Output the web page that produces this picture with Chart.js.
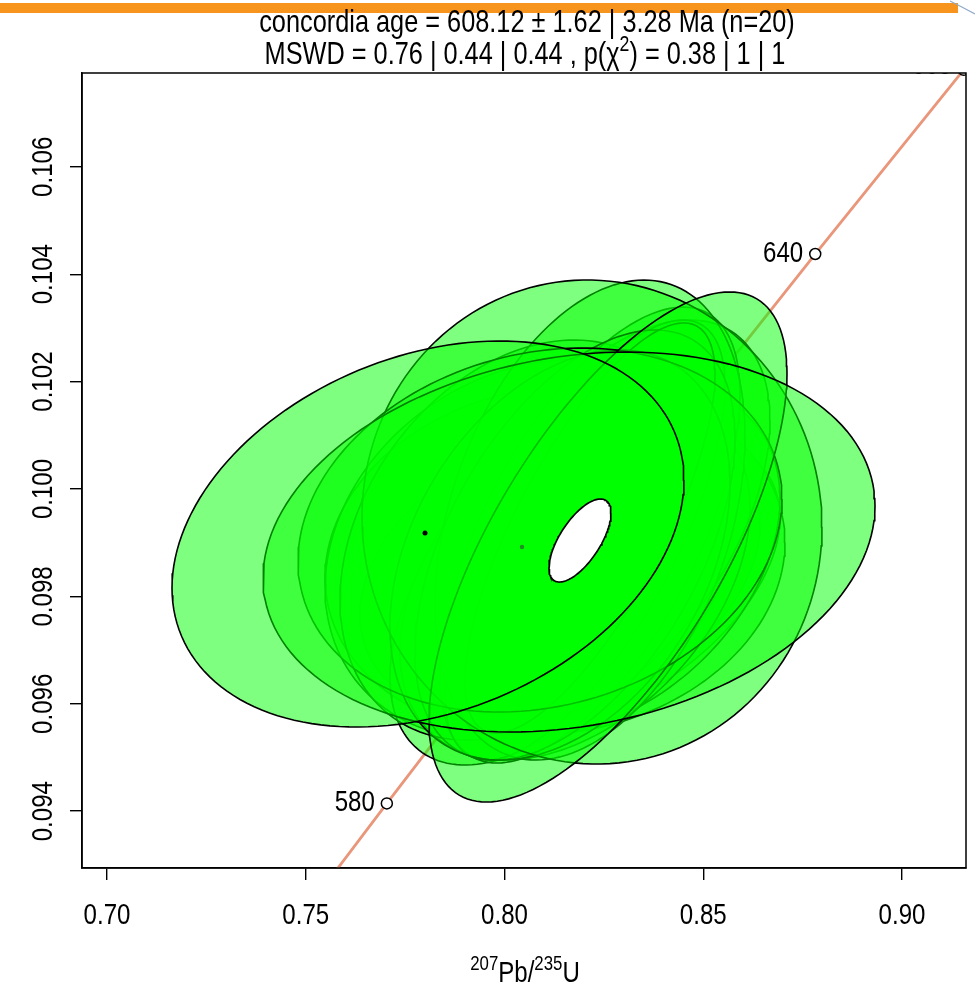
<!DOCTYPE html>
<html>
<head>
<meta charset="utf-8">
<script src="https://cdn.jsdelivr.net/npm/chart.js@4.4.1/dist/chart.umd.min.js"></script>
<style>
  html, body { margin: 0; padding: 0; background: #ffffff; }
  canvas { display: block; }
</style>
</head>
<body>
<canvas id="concordia" width="975" height="994"></canvas>
<script>
// ---- axis ranges and ticks ----
const xRange = [0.69371, 0.91610];
const yRange = [0.092942, 0.107747];
const xTicks = [0.70, 0.75, 0.80, 0.85, 0.90];
const yTicks = [0.094, 0.096, 0.098, 0.100, 0.102, 0.104, 0.106];
const xTickLabels = ['0.70', '0.75', '0.80', '0.85', '0.90'];
const yTickLabels = ['0.094', '0.096', '0.098', '0.100', '0.102', '0.104', '0.106'];

// ---- concordia curve (207Pb/235U vs 206Pb/238U) ----
const concordiaAges = [560, 570, 580, 600, 620, 640, 660, 680];
const concordiaX = [0.73588, 0.75306, 0.77040, 0.80562, 0.84155, 0.87817, 0.91553, 0.95364];
const concordiaY = [0.090755, 0.092448, 0.094144, 0.097544, 0.100955, 0.104376, 0.107807, 0.111249];

// labelled age marks on the curve
const markAges = ['580', '640', '660'];
const markX = [0.77040, 0.87817, 0.91553];
const markY = [0.094144, 0.104376, 0.107807];

// ---- analyses: ratios, 95% half-widths and error correlations ----
const ellX    = [0.81396, 0.82151, 0.81270, 0.80642, 0.82403, 0.80893, 0.81774, 0.82654, 0.80390, 0.82151,
                 0.82025, 0.82151, 0.81774, 0.82151, 0.81396, 0.82201, 0.80893, 0.82604, 0.81623, 0.78075];
const ellY    = [0.098492, 0.098212, 0.098678, 0.098864, 0.098678, 0.098119, 0.098305, 0.099423, 0.099050, 0.099143,
                 0.099050, 0.099422, 0.098957, 0.099274, 0.098771, 0.099385, 0.099236, 0.098920, 0.099013, 0.099162];
const ellErrX = [0.05031, 0.04780, 0.05786, 0.05157, 0.04528, 0.03774, 0.04403, 0.04025, 0.04528, 0.03774,
                 0.03522, 0.03899, 0.04025, 0.03145, 0.04277, 0.05786, 0.06088, 0.04503, 0.07698, 0.06440];
const ellErrY = [0.002793, 0.002793, 0.003259, 0.003538, 0.003259, 0.003259, 0.003352, 0.003724, 0.003724, 0.004246,
                 0.004097, 0.004469, 0.004004, 0.003818, 0.003818, 0.004507, 0.003389, 0.004750, 0.003538, 0.003594];
const ellRho  = [0.30, 0.45, 0.10, 0.20, 0.35, 0.50, 0.40, 0.50, 0.30, 0.62,
                 0.70, 0.35, 0.50, 0.75, 0.35, -0.02, 0.17, 0.68, 0.19, 0.28];

// two analyses with negligible error ellipses
const dotX = [0.80440, 0.78000];
const dotY = [0.098920, 0.099181];

// concordia age composition and its 95% ellipse
const ageX = 0.81899, ageY = 0.099041;
const ageErrX = 0.00780, ageErrY = 0.000773, ageRho = 0.66;

// ---- text ----
const titleLine1 = [['concordia age = 608.12 \u00b1 1.62 | 3.28 Ma (n=20)', 0]];
const titleLine2 = [['MSWD = 0.76 | 0.44 | 0.44 , p(\u03c7', 0], ['2', 1], [') = 0.38 | 1 | 1', 0]];
const xAxisTitle = [['207', 1], ['Pb/', 0], ['235', 1], ['U', 0]];

const FONT = '"Liberation Sans", Arial, Helvetica, sans-serif';
const NARROW = 0.83;

function ellipseOutline(x, y, ex, ey, rho) {
  const pts = [];
  const s = Math.sqrt(1 - rho * rho);
  const n = 160;
  for (let i = 0; i <= n; i++) {
    const t = (2 * Math.PI * i) / n;
    const c = Math.cos(t), sn = Math.sin(t);
    pts.push({ x: x + ex * c, y: y + ey * (rho * c + s * sn) });
  }
  return pts;
}

const datasets = [];

datasets.push({
  label: 'concordia',
  data: concordiaX.map((v, i) => ({ x: v, y: concordiaY[i] })),
  showLine: true, fill: false, tension: 0,
  borderColor: '#E9967A', borderWidth: 2.8,
  pointRadius: 0, order: 1000
});

ellX.forEach((x, i) => {
  datasets.push({
    label: 'analysis ' + (i + 1),
    data: ellipseOutline(x, ellY[i], ellErrX[i], ellErrY[i], ellRho[i]),
    showLine: true, fill: 'shape', tension: 0,
    backgroundColor: 'rgba(0,255,0,0.5)',
    borderColor: '#000000', borderWidth: 1.6,
    pointRadius: 0, order: -i
  });
});

datasets.push({
  label: 'point a',
  data: [{ x: dotX[0], y: dotY[0] }],
  showLine: false, pointRadius: 2.2, pointBorderWidth: 0,
  pointBackgroundColor: '#1f8f1f', order: -90
});

datasets.push({
  label: 'point b',
  data: [{ x: dotX[1], y: dotY[1] }],
  showLine: false, pointRadius: 2.5, pointBorderWidth: 0,
  pointBackgroundColor: '#000000', order: -91
});

datasets.push({
  label: 'concordia age',
  data: ellipseOutline(ageX, ageY, ageErrX, ageErrY, ageRho),
  showLine: true, fill: 'shape', tension: 0,
  backgroundColor: '#ffffff', borderColor: '#000000', borderWidth: 1.7,
  pointRadius: 0, order: -100
});

datasets.push({
  label: 'age marks',
  data: markX.map((v, i) => ({ x: v, y: markY[i] })),
  showLine: false, pointRadius: 5.5, pointBorderWidth: 1.5,
  pointBackgroundColor: '#ffffff', pointBorderColor: '#000000',
  clip: 0, order: -200
});

function richWidth(ctx, segs, size) {
  let w = 0;
  segs.forEach(([txt, sup]) => {
    ctx.font = (sup ? size * 0.7 : size) + 'px ' + FONT;
    w += ctx.measureText(txt).width;
  });
  return w;
}

function drawRich(ctx, segs, cx, baseline, size, sx) {
  ctx.save();
  ctx.translate(cx, baseline);
  ctx.scale(sx, 1);
  const w = richWidth(ctx, segs, size);
  let x = -w / 2;
  ctx.textAlign = 'left';
  ctx.textBaseline = 'alphabetic';
  segs.forEach(([txt, sup]) => {
    const fs = sup ? size * 0.7 : size;
    ctx.font = fs + 'px ' + FONT;
    ctx.fillText(txt, x, sup ? -size * 0.42 : 0);
    x += ctx.measureText(txt).width;
  });
  ctx.restore();
}

function drawNarrow(ctx, txt, x, y, size, sx, align, rot) {
  ctx.save();
  ctx.translate(x, y);
  if (rot) ctx.rotate(rot);
  ctx.scale(sx, 1);
  ctx.font = size + 'px ' + FONT;
  ctx.textAlign = align || 'center';
  ctx.textBaseline = 'middle';
  ctx.fillText(txt, 0, 0);
  ctx.restore();
}

const decorations = {
  id: 'decorations',
  beforeDraw(chart) {
    const ctx = chart.ctx;
    ctx.save();
    ctx.fillStyle = '#ffffff';
    ctx.fillRect(0, 0, chart.width, chart.height);
    // header band
    ctx.fillStyle = '#F7941D';
    ctx.fillRect(0, 3, 958, 10);
    ctx.strokeStyle = '#8FA9C8';
    ctx.lineWidth = 1.2;
    ctx.beginPath();
    ctx.moveTo(950, 1);
    ctx.quadraticCurveTo(964, 8, 975, 14);
    ctx.stroke();
    ctx.restore();
  },
  afterDraw(chart) {
    const ctx = chart.ctx;
    const a = chart.chartArea;
    const xs = chart.scales.x, ys = chart.scales.y;
    ctx.save();
    // plot frame
    ctx.strokeStyle = '#000000';
    ctx.lineWidth = 1.5;
    ctx.strokeRect(a.left, a.top, a.right - a.left, a.bottom - a.top);
    ctx.fillStyle = '#000000';
    // tick labels
    xTicks.forEach((v, i) => {
      drawNarrow(ctx, xTickLabels[i], xs.getPixelForValue(v), 916, 29, NARROW, 'center', 0);
    });
    yTicks.forEach((v, i) => {
      drawNarrow(ctx, yTickLabels[i], 44, ys.getPixelForValue(v), 29, NARROW, 'center', -Math.PI / 2);
    });
    // age labels beside the marks
    [0, 1].forEach(i => {
      drawNarrow(ctx, markAges[i], xs.getPixelForValue(markX[i]) - 12, ys.getPixelForValue(markY[i]), 29, NARROW, 'right', 0);
    });
    ctx.save();
    ctx.beginPath();
    ctx.rect(a.left, a.top, a.right - a.left, a.bottom - a.top);
    ctx.clip();
    drawNarrow(ctx, markAges[2], xs.getPixelForValue(markX[2]) - 12, ys.getPixelForValue(markY[2]) - 4, 29, NARROW, 'right', 0);
    ctx.restore();
    // titles
    drawRich(ctx, titleLine1, 527, 32, 30.5, NARROW);
    drawRich(ctx, titleLine2, 525, 64, 30.5, NARROW);
    drawRich(ctx, xAxisTitle, 525, 982, 29, NARROW);
    ctx.restore();
  }
};

new Chart(document.getElementById('concordia'), {
  type: 'scatter',
  data: { datasets },
  options: {
    responsive: false,
    animation: false,
    events: [],
    layout: { padding: { top: 73, right: 9, left: 0, bottom: 0 } },
    plugins: { legend: { display: false }, tooltip: { enabled: false }, title: { display: false } },
    scales: {
      x: {
        type: 'linear', position: 'bottom', min: xRange[0], max: xRange[1],
        afterBuildTicks: s => { s.ticks = xTicks.map(v => ({ value: v })); },
        afterFit: s => { s.height = 126; },
        ticks: { display: false },
        grid: { drawOnChartArea: false, drawTicks: true, tickLength: 12, color: '#000000', lineWidth: 1.4 },
        border: { display: true, color: '#000000', width: 1.5 }
      },
      y: {
        type: 'linear', position: 'left', min: yRange[0], max: yRange[1],
        afterBuildTicks: s => { s.ticks = yTicks.map(v => ({ value: v })); },
        afterFit: s => { s.width = 82; },
        ticks: { display: false },
        grid: { drawOnChartArea: false, drawTicks: true, tickLength: 12, color: '#000000', lineWidth: 1.4 },
        border: { display: true, color: '#000000', width: 1.5 }
      }
    }
  },
  plugins: [decorations]
});
</script>
</body>
</html>
